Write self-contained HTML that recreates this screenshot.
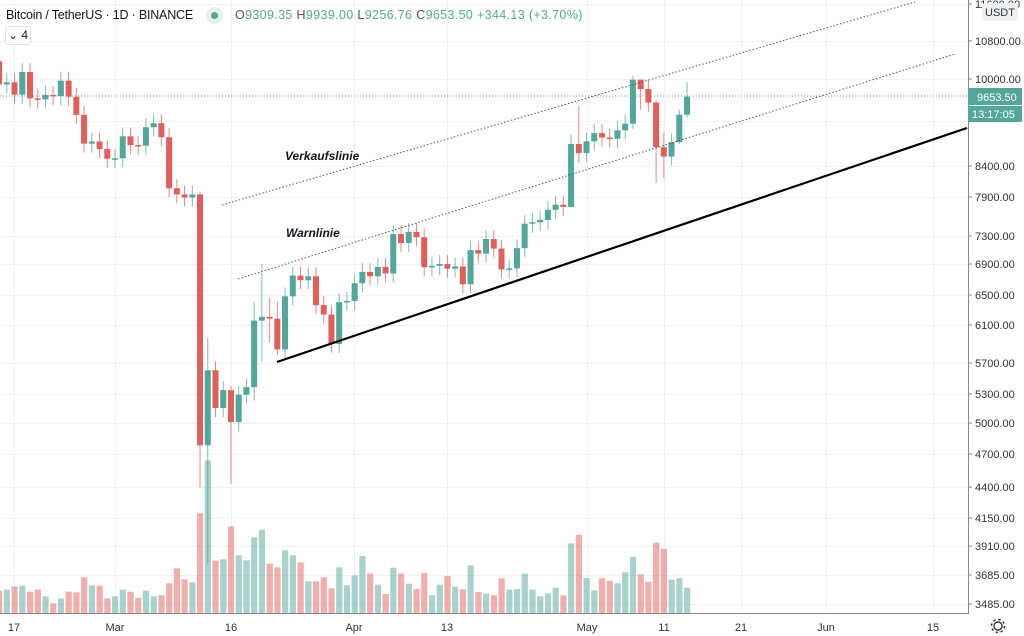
<!DOCTYPE html>
<html><head><meta charset="utf-8">
<style>
body{margin:0;background:#fff;width:1024px;height:636px;overflow:hidden;font-family:"Liberation Sans",sans-serif;}
#c{position:absolute;left:0;top:0}
.hdr{position:absolute;left:6px;top:8px;font-size:12.5px;color:#131722;white-space:nowrap;letter-spacing:-0.2px}
.ohlc{position:absolute;left:235px;top:8px;font-size:12.5px;color:#53a69a;white-space:nowrap;letter-spacing:0.35px}
.ohlc b{font-weight:normal;color:#555}
.dot{position:absolute;left:206px;top:7px;width:17px;height:17px;border-radius:50%;background:#e6eeee}
.dot:after{content:"";position:absolute;left:5px;top:5px;width:7px;height:7px;border-radius:50%;background:#53a69a}
.box{position:absolute;left:5px;top:26px;width:24px;height:17px;border:1px solid #e0e3eb;border-radius:3px;font-size:12px;color:#131722;text-align:center;line-height:17px;background:#fff}
</style></head><body>
<svg id="c" width="1024" height="636" xmlns="http://www.w3.org/2000/svg">
<g id="grid" stroke="#eef2f6" stroke-width="1"></g>
<g id="vol"></g>
<g id="cnd"></g>
<line x1="0" y1="96" x2="967" y2="96" stroke="#53a69a" stroke-width="1" stroke-dasharray="1,2"/>
<line x1="222" y1="205" x2="915" y2="2" stroke="#555" stroke-width="1" stroke-dasharray="1.5,2"/>
<line x1="238" y1="279" x2="955" y2="54" stroke="#555" stroke-width="1" stroke-dasharray="1.5,2"/>
<line x1="277" y1="362" x2="967" y2="128" stroke="#000" stroke-width="2.2"/>
<text x="285" y="160" font-size="12" font-weight="bold" font-style="italic" fill="#131722" font-family="Liberation Sans, sans-serif">Verkaufslinie</text>
<text x="286" y="237" font-size="12" font-weight="bold" font-style="italic" fill="#131722" font-family="Liberation Sans, sans-serif">Warnlinie</text>
<rect x="968" y="0" width="56" height="636" fill="#fff"/>
<line x1="968.5" y1="0" x2="968.5" y2="614" stroke="#888"/>
<line x1="0" y1="613.5" x2="968" y2="613.5" stroke="#888"/>
<g font-size="11" fill="#333" font-family="Liberation Sans, sans-serif">
<text x="975" y="8">11600.00</text>
<text x="975" y="45">10800.00</text>
<text x="975" y="83">10000.00</text>
<text x="975" y="170">8400.00</text>
<text x="975" y="201">7900.00</text>
<text x="975" y="240">7300.00</text>
<text x="975" y="268">6900.00</text>
<text x="975" y="299">6500.00</text>
<text x="975" y="329">6100.00</text>
<text x="975" y="367">5700.00</text>
<text x="975" y="398">5300.00</text>
<text x="975" y="427">5000.00</text>
<text x="975" y="458">4700.00</text>
<text x="975" y="491">4400.00</text>
<text x="975" y="522">4150.00</text>
<text x="975" y="550">3910.00</text>
<text x="975" y="579">3685.00</text>
<text x="975" y="608">3485.00</text>
</g>
<g stroke="#888"><line x1="968" y1="4" x2="972" y2="4"/><line x1="968" y1="41" x2="972" y2="41"/><line x1="968" y1="79" x2="972" y2="79"/><line x1="968" y1="166" x2="972" y2="166"/><line x1="968" y1="197" x2="972" y2="197"/><line x1="968" y1="236" x2="972" y2="236"/><line x1="968" y1="264" x2="972" y2="264"/><line x1="968" y1="295" x2="972" y2="295"/><line x1="968" y1="325" x2="972" y2="325"/><line x1="968" y1="363" x2="972" y2="363"/><line x1="968" y1="394" x2="972" y2="394"/><line x1="968" y1="423" x2="972" y2="423"/><line x1="968" y1="454" x2="972" y2="454"/><line x1="968" y1="487" x2="972" y2="487"/><line x1="968" y1="518" x2="972" y2="518"/><line x1="968" y1="546" x2="972" y2="546"/><line x1="968" y1="575" x2="972" y2="575"/><line x1="968" y1="604" x2="972" y2="604"/></g>
<rect x="982" y="3" width="36" height="18" rx="3" fill="#eef1f4"/>
<text x="985" y="16" font-size="11" fill="#333" font-family="Liberation Sans, sans-serif">USDT</text>
<rect x="968" y="88" width="54" height="17" fill="#53a69a"/>
<text x="977" y="101" font-size="11" fill="#fff" font-family="Liberation Sans, sans-serif">9653.50</text>
<rect x="968" y="106" width="54" height="16" fill="#53a69a"/>
<text x="972" y="118" font-size="11" fill="#fff" font-family="Liberation Sans, sans-serif">13:17:05</text>
<g font-size="11" fill="#333" font-family="Liberation Sans, sans-serif" text-anchor="middle">
<text x="14" y="631">17</text><text x="115" y="631">Mar</text><text x="231" y="631">16</text>
<text x="354" y="631">Apr</text><text x="447" y="631">13</text><text x="587" y="631">May</text>
<text x="664" y="631">11</text><text x="741" y="631">21</text><text x="826" y="631">Jun</text><text x="933" y="631">15</text>
</g>
<g transform="translate(998,626)" fill="none" stroke="#333" stroke-width="1.4"><circle r="4"/><circle r="6.5" stroke-dasharray="2.5,2.6"/></g>
</svg>
<div class="hdr">Bitcoin / TetherUS · 1D · BINANCE</div>
<div class="dot"></div>
<div class="ohlc"><b>O</b>9309.35 <b>H</b>9939.00 <b>L</b>9256.76 <b>C</b>9653.50 +344.13 (+3.70%)</div>
<div class="box">⌄ 4</div>
<script>
var NS="http://www.w3.org/2000/svg";
function el(p,t,a){var e=document.createElementNS(NS,t);for(var k in a)e.setAttribute(k,a[k]);p.appendChild(e);return e;}
var G="#53a69a",R="#e15f5a";
function X(i){return 115+7.73*(i-15);}
function Y(p){return 79+499*Math.log(10000/p);}
var grid=document.getElementById("grid");
[4,41,79,121,166,197,236,264,295,325,363,394,423,454,487,518,546,575,604].forEach(function(y){el(grid,"line",{x1:0,x2:968,y1:y+.5,y2:y+.5});});
[14,115,231,354,447,587,664,741,826,933].forEach(function(x){el(grid,"line",{x1:x+.5,x2:x+.5,y1:0,y2:613});});
var cl=[10363,9889,9934,9691,10142,9619,9600,9686,9663,9966,9650,9307,8785,8823,8692,8523,8531,8915,8760,8750,9078,9153,8898,8034,7935,7886,7934,4800,5578,5172,5361,5028,5312,5393,6162,6208,6186,5816,6469,6744,6681,6734,6356,6238,5881,6394,6410,6642,6794,6734,6862,6772,7329,7198,7361,7283,6858,6876,6903,6838,6869,6627,7097,7048,7257,7119,6827,6841,7125,7483,7505,7539,7694,7774,7739,8778,8620,8826,8972,8894,8871,9022,9143,9986,9800,9539,8722,8561,8810,9309,9653];
var ov={27:[7970,4410],28:[5950,3782],31:[5400,4444],35:[6900,5670],34:[6400,5250],36:[6450,5900],37:[6400,5750],75:[8950,7730],76:[9460,8450],83:[10067,9050],84:[9990,9400],86:[9580,8117],87:[8980,8200],89:[9400,8780],90:[9939,9256]};
var vt=[448,445,435,433,451,445,465,486,471,451,453,408,432,433,471,465,445,451,470,448,465,462,426,381,414,423,216,57,358,354,255,342,357,288,265,367,378,327,342,363,420,420,408,441,378,432,402,344,396,430,458,379,396,427,443,395,462,430,404,436,444,372,452,457,462,411,445,443,397,445,465,456,439,462,306,280,410,447,411,418,426,393,347,399,421,304,322,415,411,439];
var cg=document.getElementById("cnd"),vg=document.getElementById("vol");
for(var i=1;i<cl.length;i++){
 var o=cl[i-1],c=cl[i],up=c>=o,col=up?G:R,x=X(i-1);
 var h=Math.max(o,c)*1.018,l=Math.min(o,c)*0.982;
 if(ov[i]){h=ov[i][0];l=ov[i][1];}
 var v=vt[i-1];var vh=(515-v)/3;
 el(vg,"rect",{x:x-3,y:613-vh,width:6.2,height:vh,fill:col,opacity:0.5});
 el(cg,"line",{x1:x,x2:x,y1:Y(h),y2:Y(l),stroke:col,"stroke-width":1,opacity:0.75});
 var y1=Y(Math.max(o,c)),y2=Y(Math.min(o,c));
 el(cg,"rect",{x:x-3,y:y1,width:6,height:Math.max(1.5,y2-y1),fill:col});
}
</script>
</body></html>
